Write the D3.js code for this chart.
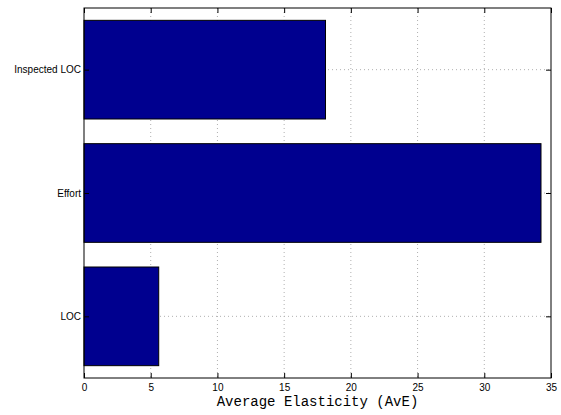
<!DOCTYPE html>
<html>
<head>
<meta charset="UTF-8">
<script src="https://cdn.jsdelivr.net/npm/d3@7"></script>
<style>
body { margin: 0; background: #fff; }
.tick text { font-family: "Liberation Sans", Arial, sans-serif; font-size: 10px; fill: #000; }
.grid line { stroke: #b0b0b0; stroke-dasharray: 1,3; }
</style>
</head>
<body>
<div id="chart"></div>
<script>
// categories from bottom to top, as in the picture
const categories = ["LOC", "Effort", "Inspected LOC"];
const values = [5.6, 34.25, 18.1];
const xTicks = [0, 5, 10, 15, 20, 25, 30, 35];

const margin = {top: 8, right: 10, bottom: 37, left: 84},
    width = 561 - margin.left - margin.right,
    height = 415 - margin.top - margin.bottom;

const x = d3.scaleLinear().domain([0, 35]).range([0, width]);
// matlab style: category i sits at i, axis from 0.5 to n+0.5
const y = d3.scaleLinear().domain([0.5, categories.length + 0.5]).range([height, 0]);
const barH = y(1) - y(1.8);

const svg = d3.select("#chart").append("svg")
    .attr("width", 561)
    .attr("height", 415)
  .append("g")
    .attr("transform", "translate(" + margin.left + "," + margin.top + ")");

// grid
svg.append("g").attr("class", "grid")
  .selectAll("line").data(xTicks.slice(1, -1)).enter().append("line")
    .attr("x1", d => x(d)).attr("x2", d => x(d))
    .attr("y1", 0).attr("y2", height);
svg.append("g").attr("class", "grid")
  .selectAll("line").data(categories).enter().append("line")
    .attr("x1", 0).attr("x2", width)
    .attr("y1", (d, i) => y(i + 1)).attr("y2", (d, i) => y(i + 1));

// bars
svg.selectAll(".bar")
    .data(values)
  .enter().append("rect")
    .attr("class", "bar")
    .attr("x", x(0))
    .attr("y", (d, i) => y(i + 1) - barH / 2)
    .attr("width", d => x(d) - x(0))
    .attr("height", barH)
    .attr("fill", "#00008f")
    .attr("stroke", "#000")
    .attr("stroke-width", 1);

// axes, ticks pointing inward
const yTickVals = categories.map((d, i) => i + 1);
svg.append("g")
    .attr("transform", "translate(0," + height + ")")
    .call(d3.axisBottom(x).tickValues(xTicks).tickSize(-5).tickPadding(6).tickSizeOuter(0))
    .call(g => g.select(".domain").remove());
svg.append("g")
    .call(d3.axisTop(x).tickValues(xTicks).tickSize(-5).tickFormat("").tickSizeOuter(0))
    .call(g => g.select(".domain").remove());
svg.append("g")
    .call(d3.axisLeft(y).tickValues(yTickVals).tickFormat((d) => categories[d - 1]).tickSize(-5).tickPadding(3).tickSizeOuter(0))
    .call(g => g.select(".domain").remove());
svg.append("g")
    .attr("transform", "translate(" + width + ",0)")
    .call(d3.axisRight(y).tickValues(yTickVals).tickFormat("").tickSize(-5).tickSizeOuter(0))
    .call(g => g.select(".domain").remove());

svg.selectAll(".tick line").attr("stroke", "#000");

// box
svg.append("rect")
    .attr("width", width).attr("height", height)
    .attr("fill", "none").attr("stroke", "#000").attr("stroke-width", 1);

svg.append("text")
    .attr("x", width / 2)
    .attr("y", height + 28)
    .attr("text-anchor", "middle")
    .style("font-family", "'Liberation Mono', 'Courier New', monospace")
    .style("font-size", "14px")
    .text("Average Elasticity (AvE)");
</script>
</body>
</html>
